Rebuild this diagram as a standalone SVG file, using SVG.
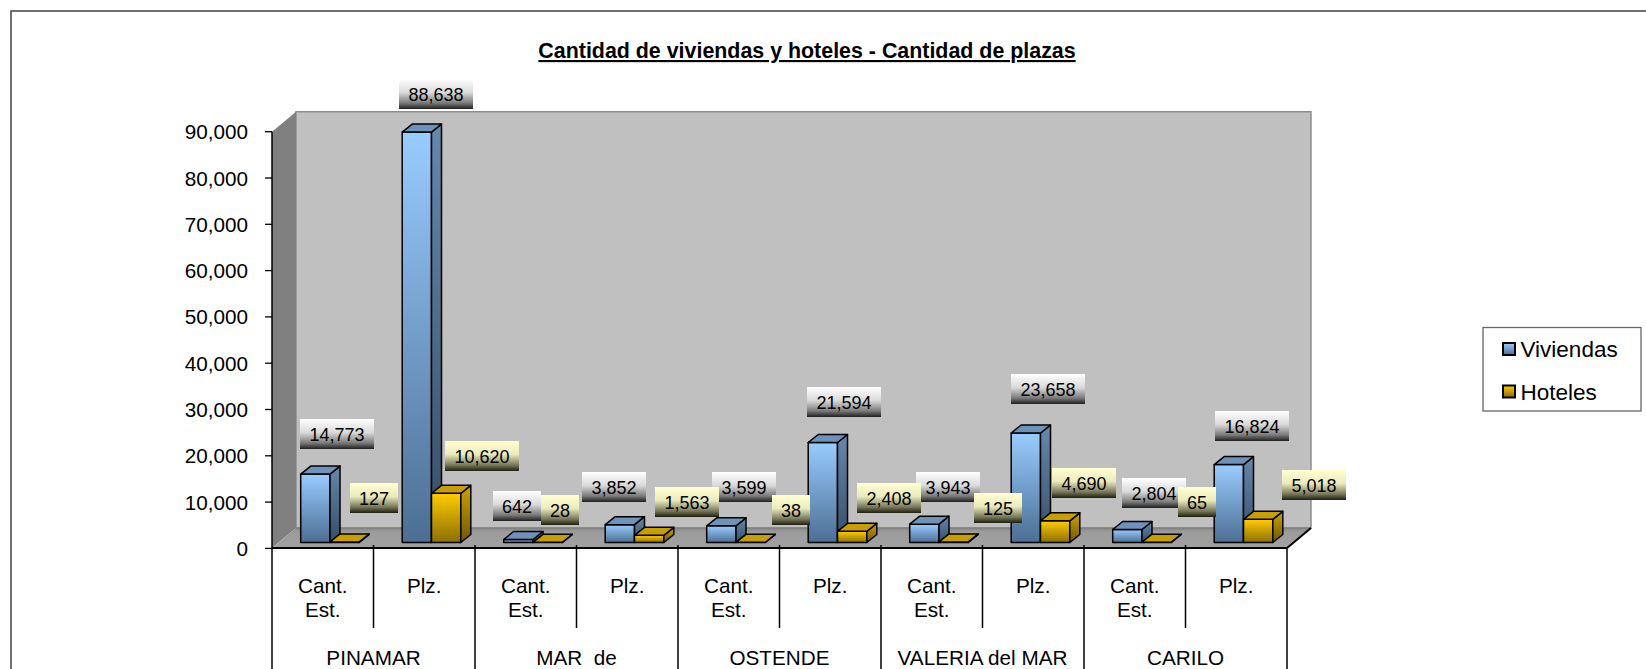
<svg xmlns="http://www.w3.org/2000/svg" width="1646" height="669" viewBox="0 0 1646 669">
<style>
text{font-family:"Liberation Sans",Arial,sans-serif;fill:#000}
.ax{font-size:20.7px;text-anchor:end}
.cat{font-size:20.7px;text-anchor:middle}
.lbl{font-size:18px;text-anchor:middle}
.leg{font-size:22.5px}
.bar rect,.bar polygon{stroke:#000;stroke-width:1.5;stroke-linejoin:round}
.v .f{fill:url(#gV)}.v .s{fill:url(#gVs)}.v .t{fill:#6E92BA}
.h .f{fill:url(#gH)}.h .s{fill:url(#gHs)}.h .t{fill:#C99F00}
.bv{fill:url(#gLV)}.bh{fill:url(#gLH)}
.grid line{stroke:#000;stroke-width:1.5}
</style>
<defs>
<linearGradient id="gV" x1="0" y1="0" x2="0" y2="1"><stop offset="0" stop-color="#99CCFF"/><stop offset="1" stop-color="#4C6E93"/></linearGradient>
<linearGradient id="gVs" x1="0" y1="0" x2="0" y2="1"><stop offset="0" stop-color="#6688AC"/><stop offset="1" stop-color="#364D66"/></linearGradient>
<linearGradient id="gH" x1="0" y1="0" x2="0" y2="1"><stop offset="0" stop-color="#FFCC00"/><stop offset="1" stop-color="#8C6E00"/></linearGradient>
<linearGradient id="gHs" x1="0" y1="0" x2="0" y2="1"><stop offset="0" stop-color="#CCA300"/><stop offset="1" stop-color="#6E5700"/></linearGradient>
<linearGradient id="gLV" x1="0" y1="0" x2="0" y2="1"><stop offset="0" stop-color="#FFFFFF"/><stop offset="0.45" stop-color="#DADADA"/><stop offset="0.8" stop-color="#7A7A7A"/><stop offset="1" stop-color="#1E1E1E"/></linearGradient>
<linearGradient id="gLH" x1="0" y1="0" x2="0" y2="1"><stop offset="0" stop-color="#FFFFD2"/><stop offset="0.45" stop-color="#EAEABC"/><stop offset="0.8" stop-color="#78785A"/><stop offset="1" stop-color="#1E1E10"/></linearGradient>
<linearGradient id="gFloor" x1="0" y1="0" x2="0" y2="1"><stop offset="0" stop-color="#888888"/><stop offset="0.2" stop-color="#9C9C9C"/><stop offset="1" stop-color="#A2A2A2"/></linearGradient>
</defs>
<rect x="0" y="0" width="1646" height="669" fill="#FFFFFF"/>
<path d="M11,700 V11 H1700" fill="none" stroke="#404040" stroke-width="1.5"/>
<g id="title"><text x="807" y="58" font-size="21.4" font-weight="bold" text-anchor="middle" text-decoration="underline">Cantidad de viviendas y hoteles - Cantidad de plazas</text></g>
<g id="plot-walls">
<polygon points="296,111.7 1311,111.7 1311,528 296,528" fill="#C0C0C0" stroke="#8E8E8E" stroke-width="1.5"/>
<polygon points="272,131.7 296,111.7 296,528 272,548" fill="#808080"/>
<polygon points="272,548 296,528 1311,528 1287,548" fill="url(#gFloor)"/>
<line x1="296" y1="528" x2="1311" y2="528" stroke="#7A7A7A" stroke-width="1.2"/>
<line x1="1287" y1="548" x2="1311" y2="528" stroke="#000" stroke-width="2"/>
</g>
<g id="value-axis">
<line x1="272" y1="131.7" x2="272" y2="548" stroke="#000" stroke-width="1.5"/>
<g stroke="#000" stroke-width="1.3">
<line x1="265" y1="548.4" x2="272" y2="548.4"/><line x1="265" y1="502.1" x2="272" y2="502.1"/><line x1="265" y1="455.8" x2="272" y2="455.8"/><line x1="265" y1="409.5" x2="272" y2="409.5"/><line x1="265" y1="363.2" x2="272" y2="363.2"/><line x1="265" y1="316.9" x2="272" y2="316.9"/><line x1="265" y1="270.6" x2="272" y2="270.6"/><line x1="265" y1="224.3" x2="272" y2="224.3"/><line x1="265" y1="178" x2="272" y2="178"/><line x1="265" y1="131.7" x2="272" y2="131.7"/>
</g>
<text class="ax" x="248" y="555.9">0</text>
<text class="ax" x="248" y="509.6">10,000</text>
<text class="ax" x="248" y="463.3">20,000</text>
<text class="ax" x="248" y="417">30,000</text>
<text class="ax" x="248" y="370.7">40,000</text>
<text class="ax" x="248" y="324.4">50,000</text>
<text class="ax" x="248" y="278.1">60,000</text>
<text class="ax" x="248" y="231.8">70,000</text>
<text class="ax" x="248" y="185.5">80,000</text>
<text class="ax" x="248" y="139.2">90,000</text>
</g>
<g id="connectors" class="grid">
<line x1="272" y1="548" x2="1287" y2="548" style="stroke-width:2"/>
<line x1="272" y1="548" x2="272" y2="680"/>
<line x1="475" y1="545" x2="475" y2="680"/>
<line x1="678" y1="545" x2="678" y2="680"/>
<line x1="881" y1="545" x2="881" y2="680"/>
<line x1="1084" y1="545" x2="1084" y2="680"/>
<line x1="1287" y1="548" x2="1287" y2="680"/>
<line x1="373.5" y1="545" x2="373.5" y2="628"/>
<line x1="576.5" y1="545" x2="576.5" y2="628"/>
<line x1="779.5" y1="545" x2="779.5" y2="628"/>
<line x1="982.5" y1="545" x2="982.5" y2="628"/>
<line x1="1185.5" y1="545" x2="1185.5" y2="628"/>
</g>
<g id="categories">
<text class="cat" x="322.7" y="593">Cant.</text><text class="cat" x="322.7" y="617">Est.</text>
<text class="cat" x="424.2" y="593">Plz.</text>
<text class="cat" x="525.7" y="593">Cant.</text><text class="cat" x="525.7" y="617">Est.</text>
<text class="cat" x="627.2" y="593">Plz.</text>
<text class="cat" x="728.7" y="593">Cant.</text><text class="cat" x="728.7" y="617">Est.</text>
<text class="cat" x="830.2" y="593">Plz.</text>
<text class="cat" x="931.7" y="593">Cant.</text><text class="cat" x="931.7" y="617">Est.</text>
<text class="cat" x="1033.2" y="593">Plz.</text>
<text class="cat" x="1134.7" y="593">Cant.</text><text class="cat" x="1134.7" y="617">Est.</text>
<text class="cat" x="1236.2" y="593">Plz.</text>
<text class="cat" x="373.5" y="665">PINAMAR</text>
<text class="cat" x="576.5" y="665" style="white-space:pre">MAR  de</text>
<text class="cat" x="779.5" y="665">OSTENDE</text>
<text class="cat" x="982.5" y="665">VALERIA del MAR</text>
<text class="cat" x="1185.5" y="665">CARILO</text>
</g>
<g id="bars">
<g class="bar v" transform="translate(300.7,542.5)"><rect class="f" x="0" y="-68.4" width="29.3" height="68.4"/><polygon class="s" points="29.3,-68.4 39.3,-76.4 39.3,-8 29.3,0"/><polygon class="t" points="0,-68.4 10,-76.4 39.3,-76.4 29.3,-68.4"/></g>
<g class="bar h" transform="translate(330,542.5)"><rect class="f" x="0" y="-0.6" width="29.3" height="0.6"/><polygon class="s" points="29.3,-0.6 39.3,-8.6 39.3,-8 29.3,0"/><polygon class="t" points="0,-0.6 10,-8.6 39.3,-8.6 29.3,-0.6"/></g>
<g class="bar v" transform="translate(402.2,542.5)"><rect class="f" x="0" y="-410.4" width="29.3" height="410.4"/><polygon class="s" points="29.3,-410.4 39.3,-418.4 39.3,-8 29.3,0"/><polygon class="t" points="0,-410.4 10,-418.4 39.3,-418.4 29.3,-410.4"/></g>
<g class="bar h" transform="translate(431.5,542.5)"><rect class="f" x="0" y="-49.2" width="29.3" height="49.2"/><polygon class="s" points="29.3,-49.2 39.3,-57.2 39.3,-8 29.3,0"/><polygon class="t" points="0,-49.2 10,-57.2 39.3,-57.2 29.3,-49.2"/></g>
<g class="bar v" transform="translate(503.7,542.5)"><rect class="f" x="0" y="-3" width="29.3" height="3"/><polygon class="s" points="29.3,-3 39.3,-11 39.3,-8 29.3,0"/><polygon class="t" points="0,-3 10,-11 39.3,-11 29.3,-3"/></g>
<g class="bar h" transform="translate(533,542.5)"><rect class="f" x="0" y="-0.2" width="29.3" height="0.2"/><polygon class="s" points="29.3,-0.2 39.3,-8.2 39.3,-8 29.3,0"/><polygon class="t" points="0,-0.2 10,-8.2 39.3,-8.2 29.3,-0.2"/></g>
<g class="bar v" transform="translate(605.2,542.5)"><rect class="f" x="0" y="-17.8" width="29.3" height="17.8"/><polygon class="s" points="29.3,-17.8 39.3,-25.8 39.3,-8 29.3,0"/><polygon class="t" points="0,-17.8 10,-25.8 39.3,-25.8 29.3,-17.8"/></g>
<g class="bar h" transform="translate(634.5,542.5)"><rect class="f" x="0" y="-7.2" width="29.3" height="7.2"/><polygon class="s" points="29.3,-7.2 39.3,-15.2 39.3,-8 29.3,0"/><polygon class="t" points="0,-7.2 10,-15.2 39.3,-15.2 29.3,-7.2"/></g>
<g class="bar v" transform="translate(706.7,542.5)"><rect class="f" x="0" y="-16.7" width="29.3" height="16.7"/><polygon class="s" points="29.3,-16.7 39.3,-24.7 39.3,-8 29.3,0"/><polygon class="t" points="0,-16.7 10,-24.7 39.3,-24.7 29.3,-16.7"/></g>
<g class="bar h" transform="translate(736,542.5)"><rect class="f" x="0" y="-0.2" width="29.3" height="0.2"/><polygon class="s" points="29.3,-0.2 39.3,-8.2 39.3,-8 29.3,0"/><polygon class="t" points="0,-0.2 10,-8.2 39.3,-8.2 29.3,-0.2"/></g>
<g class="bar v" transform="translate(808.2,542.5)"><rect class="f" x="0" y="-100" width="29.3" height="100"/><polygon class="s" points="29.3,-100 39.3,-108 39.3,-8 29.3,0"/><polygon class="t" points="0,-100 10,-108 39.3,-108 29.3,-100"/></g>
<g class="bar h" transform="translate(837.5,542.5)"><rect class="f" x="0" y="-11.2" width="29.3" height="11.2"/><polygon class="s" points="29.3,-11.2 39.3,-19.2 39.3,-8 29.3,0"/><polygon class="t" points="0,-11.2 10,-19.2 39.3,-19.2 29.3,-11.2"/></g>
<g class="bar v" transform="translate(909.7,542.5)"><rect class="f" x="0" y="-18.3" width="29.3" height="18.3"/><polygon class="s" points="29.3,-18.3 39.3,-26.3 39.3,-8 29.3,0"/><polygon class="t" points="0,-18.3 10,-26.3 39.3,-26.3 29.3,-18.3"/></g>
<g class="bar h" transform="translate(939,542.5)"><rect class="f" x="0" y="-0.6" width="29.3" height="0.6"/><polygon class="s" points="29.3,-0.6 39.3,-8.6 39.3,-8 29.3,0"/><polygon class="t" points="0,-0.6 10,-8.6 39.3,-8.6 29.3,-0.6"/></g>
<g class="bar v" transform="translate(1011.2,542.5)"><rect class="f" x="0" y="-109.5" width="29.3" height="109.5"/><polygon class="s" points="29.3,-109.5 39.3,-117.5 39.3,-8 29.3,0"/><polygon class="t" points="0,-109.5 10,-117.5 39.3,-117.5 29.3,-109.5"/></g>
<g class="bar h" transform="translate(1040.5,542.5)"><rect class="f" x="0" y="-21.7" width="29.3" height="21.7"/><polygon class="s" points="29.3,-21.7 39.3,-29.7 39.3,-8 29.3,0"/><polygon class="t" points="0,-21.7 10,-29.7 39.3,-29.7 29.3,-21.7"/></g>
<g class="bar v" transform="translate(1112.7,542.5)"><rect class="f" x="0" y="-13" width="29.3" height="13"/><polygon class="s" points="29.3,-13 39.3,-21 39.3,-8 29.3,0"/><polygon class="t" points="0,-13 10,-21 39.3,-21 29.3,-13"/></g>
<g class="bar h" transform="translate(1142,542.5)"><rect class="f" x="0" y="-0.3" width="29.3" height="0.3"/><polygon class="s" points="29.3,-0.3 39.3,-8.3 39.3,-8 29.3,0"/><polygon class="t" points="0,-0.3 10,-8.3 39.3,-8.3 29.3,-0.3"/></g>
<g class="bar v" transform="translate(1214.2,542.5)"><rect class="f" x="0" y="-77.9" width="29.3" height="77.9"/><polygon class="s" points="29.3,-77.9 39.3,-85.9 39.3,-8 29.3,0"/><polygon class="t" points="0,-77.9 10,-85.9 39.3,-85.9 29.3,-77.9"/></g>
<g class="bar h" transform="translate(1243.5,542.5)"><rect class="f" x="0" y="-23.2" width="29.3" height="23.2"/><polygon class="s" points="29.3,-23.2 39.3,-31.2 39.3,-8 29.3,0"/><polygon class="t" points="0,-23.2 10,-31.2 39.3,-31.2 29.3,-23.2"/></g>
</g>
<g id="labels-viviendas">
<rect class="bv" x="300" y="419" width="74" height="30"/><text class="lbl" x="337" y="440.5">14,773</text>
<rect class="bv" x="399" y="79" width="74" height="30"/><text class="lbl" x="436" y="100.5">88,638</text>
<rect class="bv" x="493" y="491" width="48" height="30"/><text class="lbl" x="517" y="512.5">642</text>
<rect class="bv" x="582" y="472" width="64" height="30"/><text class="lbl" x="614" y="493.5">3,852</text>
<rect class="bv" x="712" y="472" width="64" height="30"/><text class="lbl" x="744" y="493.5">3,599</text>
<rect class="bv" x="807" y="387" width="74" height="30"/><text class="lbl" x="844" y="408.5">21,594</text>
<rect class="bv" x="916" y="472" width="64" height="30"/><text class="lbl" x="948" y="493.5">3,943</text>
<rect class="bv" x="1011" y="374" width="74" height="30"/><text class="lbl" x="1048" y="395.5">23,658</text>
<rect class="bv" x="1122" y="478" width="64" height="30"/><text class="lbl" x="1154" y="499.5">2,804</text>
<rect class="bv" x="1215" y="411" width="74" height="30"/><text class="lbl" x="1252" y="432.5">16,824</text>
</g>
<g id="labels-hoteles">
<rect class="bh" x="350" y="483" width="48" height="30"/><text class="lbl" x="374" y="504.5">127</text>
<rect class="bh" x="445" y="441" width="74" height="30"/><text class="lbl" x="482" y="462.5">10,620</text>
<rect class="bh" x="541" y="495" width="38" height="30"/><text class="lbl" x="560" y="516.5">28</text>
<rect class="bh" x="655" y="487" width="64" height="30"/><text class="lbl" x="687" y="508.5">1,563</text>
<rect class="bh" x="772" y="495" width="38" height="30"/><text class="lbl" x="791" y="516.5">38</text>
<rect class="bh" x="857" y="483" width="64" height="30"/><text class="lbl" x="889" y="504.5">2,408</text>
<rect class="bh" x="974" y="493" width="48" height="30"/><text class="lbl" x="998" y="514.5">125</text>
<rect class="bh" x="1052" y="468" width="64" height="30"/><text class="lbl" x="1084" y="489.5">4,690</text>
<rect class="bh" x="1178" y="487" width="38" height="30"/><text class="lbl" x="1197" y="508.5">65</text>
<rect class="bh" x="1282" y="470" width="64" height="30"/><text class="lbl" x="1314" y="491.5">5,018</text>
</g>
<g id="legend">
<rect x="1483" y="327.5" width="158" height="83.5" fill="#FFFFFF" stroke="#666666" stroke-width="1.3"/>
<rect x="1503" y="343" width="12" height="12" fill="url(#gV)" stroke="#000" stroke-width="2"/>
<text class="leg" x="1520.5" y="357">Viviendas</text>
<rect x="1503" y="385.5" width="12" height="12" fill="url(#gH)" stroke="#000" stroke-width="2"/>
<text class="leg" x="1520.5" y="399.5">Hoteles</text>
</g>
</svg>
